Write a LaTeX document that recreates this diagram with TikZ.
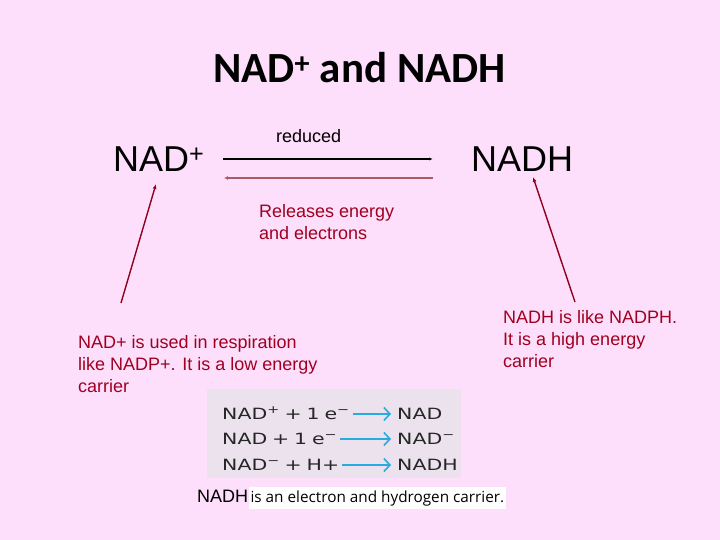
\documentclass[tikz,border=0pt]{standalone}
\usepackage{fontspec}
\setmainfont{Liberation Sans}
\newfontfamily\titlefont{Carlito}
\newfontfamily\eqfont[FakeStretch=1.32,WordSpace=0.75]{DejaVu Sans}
\newfontfamily\notefont{Open Sans}
\usetikzlibrary{arrows.meta,positioning}
\definecolor{slidebg}{RGB}{253,223,251}
\definecolor{notered}{RGB}{160,0,32}
\definecolor{backarrow}{RGB}{168,92,100}
\definecolor{insetbg}{RGB}{235,226,238}
\definecolor{eqblue}{RGB}{41,171,226}

\begin{document}
\begin{tikzpicture}[x=1pt,y=-1pt,
    txt/.style={inner sep=0pt,anchor=base west},
    big/.style={txt,font=\fontsize{36}{40}\selectfont},
    note/.style={txt,align=left,text=notered,font=\fontsize{18}{22}\selectfont},
    pointer/.style={draw=notered!90!black,line width=1.4pt,-{Latex[length=5pt,width=4pt]}},
    eq/.style={txt,text=black!85,font=\eqfont\fontsize{15.5}{18}\selectfont},
    eqarrow/.style={draw=eqblue,line width=1.6pt,-{Straight Barb[length=6pt,width=13pt]}}]
    \fill[slidebg] (0,0) rectangle (720,540);
    \useasboundingbox (0,0) rectangle (720,540);

    % Title
    \node[txt,font=\titlefont\bfseries\fontsize{43}{50}\selectfont] (title) at (213,83) {NAD\textsuperscript{+} and NADH};

    % Reaction
    \node[big] (nadplus) at (113,172) {NAD\textsuperscript{+}};
    \node[big] (nadh) at (471,172) {NADH};
    \coordinate (fwdA) at (223,159);
    \coordinate (fwdB) at (433,159);
    \coordinate (backA) at (433,178);
    \coordinate (backB) at (224,178);
    \draw[line width=1.3pt,-{Latex[length=4pt,width=3pt]}] (fwdA) -- (fwdB);
    \draw[backarrow,line width=2pt,-{Latex[length=4pt,width=4pt]}] (backA) -- (backB);
    \node[txt,font=\fontsize{18}{22}\selectfont] (reduced) at (276,143) {reduced};
    \node[note] (releases) at (259,240) {Releases energy\\and electrons};

    % Notes (anchored at the last line)
    \node[note] (nadnote) at (78,392) {NAD+ is used in respiration\\like NADP+. It is a low energy\\carrier};
    \node[note] (nadhnote) at (503,367) {NADH is like NADPH.\\It is a high energy\\carrier};
    \coordinate (lpA) at (121,303);
    \coordinate (lpB) at (156,184);
    \coordinate (rpA) at (575,302);
    \coordinate (rpB) at (533,177);
    \draw[pointer] (lpA) -- (lpB);
    \draw[pointer] (rpA) -- (rpB);

    % Inset equations
    \node[fill=insetbg,inner sep=0pt,anchor=north west,minimum width=254,minimum height=89] (inset) at (207,389) {};
    \foreach \row/\y/\lhs/\rhs in {r1/419/{NAD\textsuperscript{+} + 1 e\textsuperscript{−}}/NAD,
                                    r2/444/{NAD + 1 e\textsuperscript{−}}/{NAD\textsuperscript{−}},
                                    r3/470/{NAD\textsuperscript{−} + H+}/NADH} {
        \node[eq] (\row l) at (222,\y) {\lhs};
        \node[eq] (\row r) at (397,\y) {\rhs};
        \draw[eqarrow] ([shift={(3,-5)}]\row l.base east) -- ([shift={(-6,-5)}]\row r.base west);
    }

    % Caption
    \node[txt,font=\fontsize{18}{22}\selectfont] (capnadh) at (197,502) {NADH};
    \node[fill=white,inner xsep=2pt,inner ysep=3pt,anchor=base west,font=\notefont\fontsize{15.3}{18}\selectfont] (capnote) at (capnadh.base east) {is an electron and hydrogen carrier.};
\end{tikzpicture}
\end{document}
